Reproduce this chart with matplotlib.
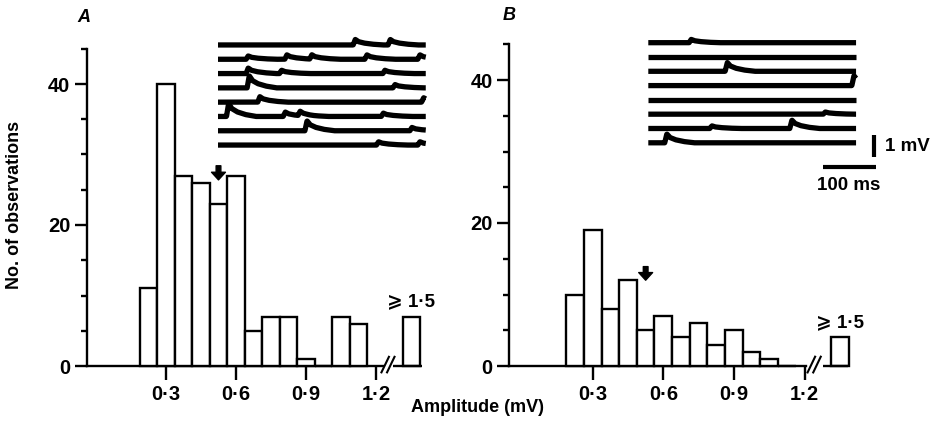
import numpy as np
import matplotlib
matplotlib.use("Agg")
import matplotlib.pyplot as plt

plt.rcParams['font.family'] = ['Liberation Sans', 'DejaVu Sans']
plt.rcParams['font.weight'] = 'bold'

# ---------------- data ----------------
bin_centers = [0.225, 0.3, 0.375, 0.45, 0.525, 0.6, 0.675, 0.75, 0.825, 0.9, 0.975, 1.05, 1.125]
bin_width = 0.075
counts_A = [11, 40, 27, 26, 23, 27, 5, 7, 7, 1, 0, 7, 6]
counts_B = [10, 19, 8, 12, 5, 7, 4, 6, 3, 5, 2, 1, 0]
overflow_label = "\u2a7e 1\u00b75"
overflow_pos = 1.352
overflow_A = 7
overflow_B = 4
mean_A = 0.525
mean_B = 0.525
xtick_vals = [0.3, 0.6, 0.9, 1.2]
xtick_labels = ["0\u00b73", "0\u00b76", "0\u00b79", "1\u00b72"]
ytick_major = [0, 20, 40]
ytick_minor = [5, 10, 15, 25, 30, 35, 45]

# inset traces: per trace list of (time ms, amplitude mV) events
events_A = [
    [(255, 0.25), (321, 0.25)],
    [(53, 0.15), (126, 0.2), (173, 0.2), (277, 0.2), (377, 0.2)],
    [(53, 0.25), (116, 0.15), (311, 0.15)],
    [(55, 0.55), (330, 0.15)],
    [(75, 0.25), (384, 0.2)],
    [(16, 0.6), (123, 0.2), (151, 0.2), (308, 0.15)],
    [(164, 0.45), (362, 0.15)],
    [(299, 0.15), (377, 0.15)],
]
events_B = [
    [(77, 0.15)],
    [],
    [(145, 0.4)],
    [(384, 0.45)],
    [],
    [(330, 0.1)],
    [(116, 0.12), (267, 0.38)],
    [(31, 0.4)],
]
trace_len_ms = 392
trace_gap_mV = 0.65
event_shape_t = [0, 4, 10, 20, 35, 55]
event_shape_f = [0, 1.0, 0.6, 0.35, 0.15, 0.0]

W, H = 933, 433
fig = plt.figure(figsize=(W / 100, H / 100), dpi=100)


def px_axes(left, right, top, bottom):
    return fig.add_axes([left / W, 1 - bottom / H, (right - left) / W, (bottom - top) / H])


def histogram(ax, counts, overflow, mean, xlim, brk):
    ax.set_xlim(*xlim)
    ax.set_ylim(0, 45)
    ax.bar(bin_centers, counts, width=bin_width, facecolor='white', edgecolor='black',
           linewidth=1.7, zorder=3, clip_on=False)
    ax.bar([overflow_pos], [overflow], width=bin_width, facecolor='white',
           edgecolor='black', linewidth=1.7, zorder=3, clip_on=False)
    for s in ['top', 'right']:
        ax.spines[s].set_visible(False)
    ax.spines['left'].set_linewidth(1.7)
    ax.spines['bottom'].set_linewidth(1.7)
    ax.spines['bottom'].set_bounds(xlim[0], brk[0])
    ax.plot([brk[1], xlim[1]], [0, 0], color='black', lw=1.7, clip_on=False,
            solid_capstyle='butt', zorder=4)
    # break marks
    mid = (brk[0] + brk[1]) / 2
    for dx in (-0.012, 0.012):
        ax.plot([mid + dx - 0.016, mid + dx + 0.016], [-0.9, 1.3], color='black', lw=1.5,
                clip_on=False, zorder=4)
    ax.set_xticks(xtick_vals)
    ax.set_xticklabels(xtick_labels)
    ax.set_yticks(ytick_major)
    ax.set_yticks(ytick_minor, minor=True)
    ax.tick_params(axis='x', direction='out', length=10, width=1.7, pad=4, labelsize=14.5)
    ax.tick_params(axis='y', which='major', direction='out', length=9, width=1.7, pad=3,
                   labelsize=14.5)
    ax.tick_params(axis='y', which='minor', direction='out', length=4.5, width=1.7)
    ax.annotate(overflow_label, xy=(overflow_pos, overflow), xytext=(0, 10.5),
                textcoords='offset points', ha='center', va='center', fontsize=13.5)
    ax.patch.set_visible(False)


arrow_props = dict(arrowstyle='simple,head_length=0.55,head_width=1.0,tail_width=0.34',
                   fc='black', ec='black', mutation_scale=10, shrinkA=0, shrinkB=0)

axA = px_axes(87, 421.7, 48.75, 366)
histogram(axA, counts_A, overflow_A, mean_A, (-0.0386, 1.396), (1.228, 1.275))
axA.annotate('', xy=(mean_A, 26.4), xytext=(mean_A, 28.4), arrowprops=arrow_props)

axB = px_axes(509.3, 848.3, 44.25, 366)
histogram(axB, counts_B, overflow_B, mean_B, (-0.0544, 1.386), (1.205, 1.277))
axB.annotate('', xy=(mean_B, 12.0), xytext=(mean_B, 13.9), arrowprops=arrow_props)


def traces(ax, events):
    t = np.linspace(0, trace_len_ms, 800)
    for k, evs in enumerate(events):
        y = np.full_like(t, -k * trace_gap_mV)
        for t0, a in evs:
            y = y + a * np.interp(t - t0, event_shape_t, event_shape_f, left=0, right=0)
        ax.plot(t, y, color='black', lw=3.8, solid_capstyle='butt', solid_joinstyle='round')
    ax.set_xlim(0, 440)
    ax.axis('off')


insA = px_axes(218, 218 + 233.2, 30, 205)
traces(insA, events_A)
insA.set_ylim(0.68 - 175 / 22, 0.68)

insB = px_axes(648.3, 648.3 + 233.2, 30, 205)
traces(insB, events_B)
top_B = 0.577
insB.set_ylim(top_B - 175 / 22, top_B)
insB.plot([426, 426], [-4.19, -5.19], color='black', lw=3.0, solid_capstyle='butt', clip_on=False)
insB.plot([329, 429], [-5.66, -5.66], color='black', lw=3.0, solid_capstyle='butt', clip_on=False)
insB.text(447, -4.72, '1 mV', ha='left', va='center', fontsize=13.5, clip_on=False)
insB.text(379, -6.47, '100 ms', ha='center', va='center', fontsize=13.5, clip_on=False)

fig.text(84 / W, 1 - 17 / H, 'A', ha='center', va='center', fontsize=13,
         style='italic', fontweight='bold')
fig.text(509 / W, 1 - 16 / H, 'B', ha='center', va='center', fontsize=13,
         style='italic', fontweight='bold')
fig.text(15 / W, 1 - 205 / H, 'No. of observations', rotation=90, ha='center',
         va='center', fontsize=13)
fig.text(478 / W, 1 - 408 / H, 'Amplitude (mV)', ha='center', va='center', fontsize=13)

fig.savefig('out.png', dpi=100)
